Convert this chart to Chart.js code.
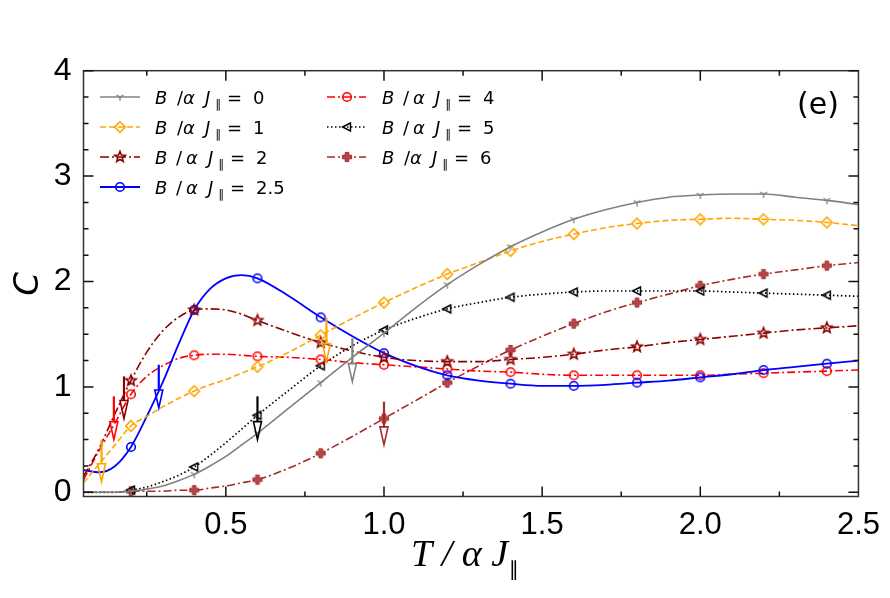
<!DOCTYPE html>
<html><head><meta charset="utf-8">
<script src="https://cdn.jsdelivr.net/npm/chart.js@4.4.0/dist/chart.umd.min.js"></script>
<style>html,body{margin:0;padding:0;background:#fff;}</style>
</head><body>
<canvas id="c" width="890" height="598" style="width:890px;height:598px;display:block"></canvas>
<script>
// ---------------- data ----------------
const T = [0.05,0.1,0.15,0.2,0.25,0.3,0.35,0.4,0.45,0.5,0.55,0.6,0.7,0.8,0.9,1.0,1.1,1.2,1.3,1.4,1.5,1.6,1.7,1.8,1.9,2.0,2.1,2.2,2.3,2.4,2.5];
const C_B0  = [0.00,0.00,0.00,0.01,0.03,0.06,0.11,0.17,0.25,0.34,0.45,0.56,0.80,1.04,1.28,1.51,1.75,1.97,2.16,2.33,2.47,2.59,2.68,2.75,2.80,2.82,2.83,2.83,2.80,2.77,2.73];
const C_B1  = [0.09,0.27,0.45,0.63,0.72,0.81,0.89,0.96,1.02,1.07,1.13,1.19,1.33,1.49,1.65,1.80,1.94,2.07,2.18,2.29,2.38,2.45,2.51,2.55,2.58,2.59,2.60,2.59,2.58,2.56,2.53];
const C_B2  = [0.15,0.42,0.75,1.06,1.33,1.53,1.66,1.73,1.74,1.73,1.69,1.63,1.52,1.42,1.34,1.28,1.25,1.24,1.24,1.26,1.28,1.31,1.35,1.38,1.42,1.45,1.48,1.51,1.54,1.56,1.58];
const C_B25 = [0.21,0.19,0.25,0.43,0.72,1.04,1.40,1.73,1.93,2.03,2.06,2.03,1.86,1.66,1.48,1.32,1.20,1.11,1.06,1.03,1.01,1.01,1.02,1.04,1.06,1.09,1.12,1.16,1.19,1.22,1.25];
const C_B4  = [0.12,0.40,0.66,0.93,1.10,1.20,1.27,1.30,1.31,1.31,1.30,1.29,1.28,1.26,1.23,1.21,1.19,1.17,1.15,1.14,1.12,1.11,1.11,1.11,1.11,1.11,1.12,1.13,1.14,1.15,1.16];
const C_B5  = [0.00,0.00,0.00,0.02,0.05,0.10,0.16,0.24,0.35,0.47,0.60,0.73,0.97,1.20,1.39,1.54,1.65,1.74,1.80,1.85,1.88,1.90,1.91,1.91,1.91,1.91,1.90,1.89,1.88,1.87,1.86];
const C_B6  = [0.00,0.00,0.00,0.01,0.01,0.01,0.02,0.02,0.04,0.06,0.09,0.12,0.23,0.37,0.53,0.70,0.87,1.04,1.20,1.35,1.48,1.60,1.71,1.80,1.88,1.96,2.02,2.07,2.11,2.15,2.18];
const markerT = [0.2,0.4,0.6,0.8,1.0,1.2,1.4,1.6,1.8,2.0,2.2,2.4];
const B_labels = ['0','1','2','2.5','4','5','6'];
const xTicks = [0.5,1.0,1.5,2.0,2.5];
const yTicks = [0,1,2,3,4];
// arrows (vertical, pointing down)
const arrowT      = [0.107,0.146,0.178,0.288,0.60,0.818,0.90,1.00];
const arrowTop    = [0.50, 0.91, 1.10, 1.21, 0.91,1.66, 1.46,0.86];
const arrowBottom = [0.10, 0.50, 0.70, 0.80, 0.50,1.24, 1.05,0.45];
const arrowColor  = ['#FFA500','#FF0000','#8B0000','#0000FF','#000000','#FFA500','#808080','#A52A2A'];

// ---------------- markers ----------------
function mk(draw){const c=document.createElement('canvas');c.width=16;c.height=16;const g=c.getContext('2d');g.translate(8,8);draw(g);return c;}
const M = {
  tri: mk(g=>{g.strokeStyle='#808080';g.lineWidth=1.3;g.beginPath();
        g.moveTo(0,0);g.lineTo(0,4);g.moveTo(0,0);g.lineTo(-3.5,-2);g.moveTo(0,0);g.lineTo(3.5,-2);g.stroke();}),
  diamond: mk(g=>{g.strokeStyle='#FFA500';g.lineWidth=1.6;g.beginPath();g.moveTo(0,-5.3);g.lineTo(5.3,0);g.lineTo(0,5.3);g.lineTo(-5.3,0);g.closePath();g.stroke();}),
  star: mk(g=>{g.strokeStyle='#8B0000';g.lineWidth=1.6;g.beginPath();
        for(let i=0;i<10;i++){const r=i%2?2.4:5.5;const a=-Math.PI/2+i*Math.PI/5;const x=r*Math.cos(a),y=r*Math.sin(a);i?g.lineTo(x,y):g.moveTo(x,y);}g.closePath();g.stroke();}),
  circB: mk(g=>{g.strokeStyle='#0000FF';g.lineWidth=1.6;g.beginPath();g.arc(0,0,4.3,0,Math.PI*2);g.stroke();}),
  circR: mk(g=>{g.strokeStyle='#FF0000';g.lineWidth=1.6;g.beginPath();g.arc(0,0,4.3,0,Math.PI*2);g.stroke();}),
  triL: mk(g=>{g.strokeStyle='#000';g.lineWidth=1.4;g.beginPath();g.moveTo(-4.5,0);g.lineTo(3.5,-4);g.lineTo(3.5,4);g.closePath();g.stroke();}),
  plus: mk(g=>{g.fillStyle='#B04848';g.strokeStyle='#A52A2A';g.lineWidth=1;g.beginPath();
        const a=1.8,b=4.6;g.moveTo(-a,-b);g.lineTo(a,-b);g.lineTo(a,-a);g.lineTo(b,-a);g.lineTo(b,a);g.lineTo(a,a);g.lineTo(a,b);g.lineTo(-a,b);g.lineTo(-a,a);g.lineTo(-b,a);g.lineTo(-b,-a);g.lineTo(-a,-a);g.closePath();g.fill();g.stroke();})
};

const series = [
  {v:C_B0,  color:'#808080', dash:[],          w:1.6, m:M.tri,     tight:true},
  {v:C_B1,  color:'#FFA500', dash:[6,3],       w:1.6, m:M.diamond, tight:true},
  {v:C_B2,  color:'#8B0000', dash:[9,3,2,3],   w:1.6, m:M.star,    tight:false},
  {v:C_B25, color:'#0000FF', dash:[],          w:1.8, m:M.circB,   tight:false},
  {v:C_B4,  color:'#FF0000', dash:[8,3,2,3],   w:1.6, m:M.circR,   tight:false},
  {v:C_B5,  color:'#000000', dash:[1.5,2.5],   w:1.7, m:M.triL,    tight:false},
  {v:C_B6,  color:'#A52A2A', dash:[8,3,2,3],   w:1.6, m:M.plus,    tight:true}
];
const isMarker = t => markerT.some(m => Math.abs(m - t) < 1e-6);

const datasets = series.map((s,i)=>({
  label: 'B/αJ = ' + B_labels[i],
  data: T.map((t,k)=>({x:t, y:s.v[k]})),
  borderColor: s.color, borderWidth: s.w, borderDash: s.dash,
  backgroundColor: s.color,
  pointStyle: s.m,
  pointRadius: T.map(t => isMarker(t) ? 4 : 0),
  pointHoverRadius: 0,
  cubicInterpolationMode: 'monotone', fill:false
}));

// ---------------- plugin: frame, ticks, arrows, legend, titles ----------------
function drawMathLabel(ctx, x, yBase, val, tight){
  const o = tight ? {B:0,s:22,a:28,J:50,sub:60,eq:72,v:98} : {B:0,s:21,a:31,J:53,sub:63,eq:75,v:101};
  ctx.fillStyle='#000'; ctx.textAlign='left'; ctx.textBaseline='alphabetic';
  ctx.font = 'oblique 18px "DejaVu Sans"';
  ctx.fillText('B', x+o.B, yBase);
  ctx.font = '18px "DejaVu Sans"';
  ctx.fillText('/', x+o.s, yBase);
  ctx.font = 'oblique 18px "DejaVu Sans"';
  ctx.fillText('α', x+o.a, yBase);
  ctx.fillText('J', x+o.J, yBase);
  ctx.font = '12px "DejaVu Sans"';
  ctx.fillText('∥', x+o.sub, yBase+4);
  ctx.font = '18px "DejaVu Sans"';
  ctx.fillText('=', x+o.eq, yBase);
  ctx.fillText(val, x+o.v, yBase);
}

const deco = {
  id:'deco',
  afterDatasetsDraw(chart){
    const ctx = chart.ctx, a = chart.chartArea, xs = chart.scales.x, ys = chart.scales.y;
    ctx.save();
    // frame
    ctx.strokeStyle='#333'; ctx.lineWidth=1.5; ctx.setLineDash([]);
    ctx.strokeRect(a.left, a.top, a.right-a.left, a.bottom-a.top);
    // ticks (inward, all sides)
    ctx.strokeStyle='#111'; ctx.lineWidth=1.5;
    ctx.beginPath();
    for (let v=0.25; v<=2.5001; v+=0.25){
      const px = xs.getPixelForValue(v);
      if (px < a.left+1 || px > a.right-1) continue;
      const major = Math.abs(v*2 - Math.round(v*2)) < 1e-6;
      const L = major ? 10 : 5;
      ctx.moveTo(px, a.bottom); ctx.lineTo(px, a.bottom-L);
      ctx.moveTo(px, a.top); ctx.lineTo(px, a.top+L);
    }
    for (let v=0; v<=4.0001; v+=0.25){
      const py = ys.getPixelForValue(v);
      const major = Math.abs(v - Math.round(v)) < 1e-6;
      const L = major ? 10 : 5;
      ctx.moveTo(a.left, py); ctx.lineTo(a.left+L, py);
      ctx.moveTo(a.right, py); ctx.lineTo(a.right-L, py);
    }
    ctx.stroke();
    // arrows
    arrowT.forEach((t,i)=>{
      const px = xs.getPixelForValue(t), yt = ys.getPixelForValue(arrowTop[i]), yb = ys.getPixelForValue(arrowBottom[i]);
      const hh = 18, hw = 4;
      ctx.strokeStyle = arrowColor[i]; ctx.lineWidth = 2.2;
      ctx.beginPath(); ctx.moveTo(px, yt); ctx.lineTo(px, yb-hh); ctx.stroke();
      ctx.lineWidth = 1.6;
      ctx.beginPath(); ctx.moveTo(px-hw, yb-hh); ctx.lineTo(px+hw, yb-hh); ctx.lineTo(px, yb); ctx.closePath(); ctx.stroke();
    });
    // legend
    const cols = [{lx0:100,lx1:140,mx:120,tx:155},{lx0:327,lx1:366,mx:347,tx:382}];
    const rowY = [97,127,157,187];
    series.forEach((s,i)=>{
      const c = cols[i<4?0:1], y = rowY[i<4?i:i-4];
      ctx.strokeStyle=s.color; ctx.lineWidth=s.w; ctx.setLineDash(s.dash);
      ctx.beginPath(); ctx.moveTo(c.lx0,y); ctx.lineTo(c.lx1,y); ctx.stroke();
      ctx.setLineDash([]);
      ctx.drawImage(s.m, c.mx-8, y-8);
      drawMathLabel(ctx, c.tx, y+6.5, B_labels[i], s.tight);
    });
    // panel label
    ctx.fillStyle='#000'; ctx.font='30px "DejaVu Sans"'; ctx.textAlign='left'; ctx.textBaseline='alphabetic';
    ctx.fillText('(e)', 797, 114);
    // y title
    ctx.save(); ctx.translate(29, 284); ctx.rotate(-Math.PI/2);
    ctx.font='oblique 34px "DejaVu Sans"'; ctx.textAlign='center'; ctx.textBaseline='middle';
    ctx.fillText('C', 0, 0); ctx.restore();
    // x title
    ctx.font='italic 38px "Liberation Serif"'; ctx.textAlign='left'; ctx.textBaseline='alphabetic';
    const xt = 'T / α J';
    ctx.fillText(xt, 411, 566);
    const w = ctx.measureText(xt).width;
    ctx.font='20px "DejaVu Sans"';
    ctx.fillText('∥', 411 + w + 1, 576);
    ctx.restore();
  }
};

new Chart(document.getElementById('c'), {
  type:'line',
  data:{datasets},
  options:{
    responsive:false, animation:false, devicePixelRatio:1,
    layout:{padding:{left:0, right:31.5, top:70.7, bottom:0}},
    plugins:{legend:{display:false}, tooltip:{enabled:false}},
    scales:{
      x:{type:'linear', min:0.05, max:2.5,
         afterBuildTicks:s=>{s.ticks = xTicks.map(v=>({value:v}));},
         afterFit:s=>{s.height = 598-496.5;},
         grid:{display:false, drawTicks:false}, border:{display:false},
         ticks:{color:'#000', font:{family:'"Liberation Sans"', size:31}, padding:10, maxRotation:0, autoSkip:false,
                callback:v=>Number(v).toFixed(1)}},
      y:{type:'linear', min:-0.04, max:4,
         afterBuildTicks:s=>{s.ticks = yTicks.map(v=>({value:v}));},
         afterFit:s=>{s.width = 83.5;},
         grid:{display:false, drawTicks:false}, border:{display:false},
         ticks:{color:'#000', font:{family:'"Liberation Sans"', size:32}, padding:12, autoSkip:false,
                callback:v=>String(v)}}
    }
  },
  plugins:[deco]
});
</script>
</body></html>
